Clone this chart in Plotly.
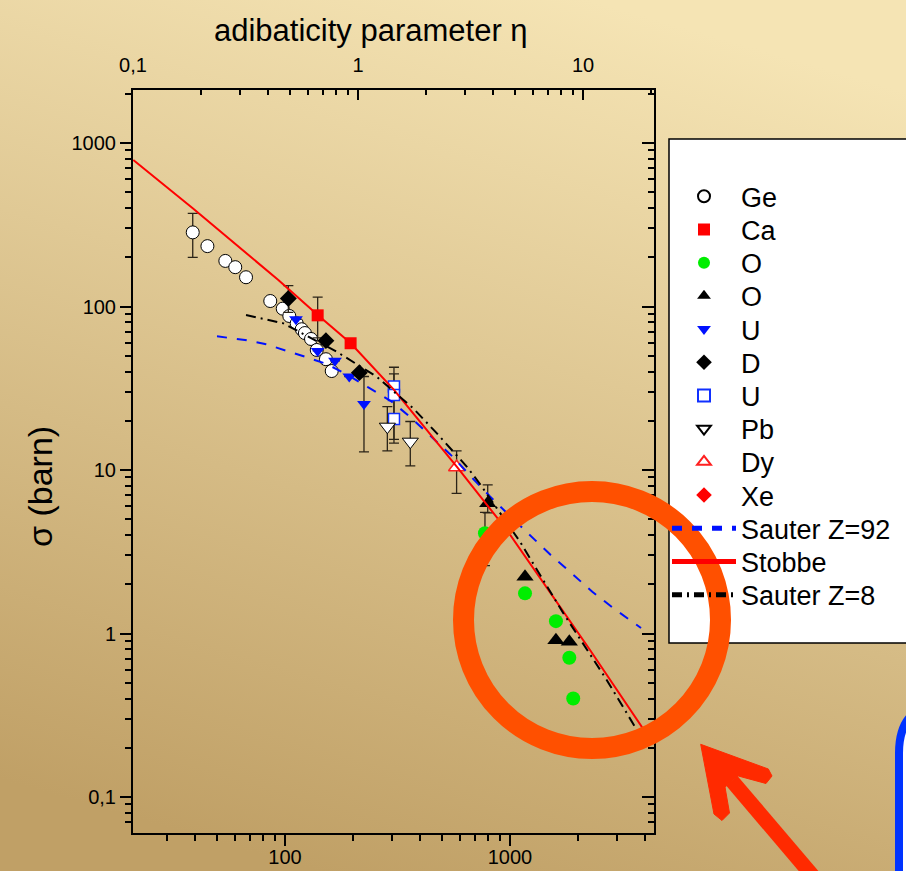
import base64
import plotly.graph_objects as go

# ---------------- data ----------------
ge_x = [38.9, 45.2, 54.3, 60.1, 67.1, 86.0, 97.7, 104.5, 112.7, 118.6, 122.6, 130.5, 138.4, 152.0, 161.3]
ge_y = [284, 234, 190, 174, 151, 108, 97, 87.5, 78.9, 72.6, 68.8, 63.3, 54.2, 47.6, 40.3]
ge_ep = [87] + [None] * 14
ge_em = [84] + [None] * 14

ca_x = [139.7, 195.7]
ca_y = [88.3, 59.6]
ca_ep = [25.7, None]
ca_em = [24.0, None]

og_x = [774, 1166, 1600, 1835, 1910]
og_y = [4.1, 1.76, 1.19, 0.71, 0.40]
og_ep = [1.4, None, None, None, None]
og_em = [1.5, None, None, None, None]

ot_x = [796, 1166, 1600, 1835]
ot_y = [6.26, 2.22, 0.91, 0.89]
ot_ep = [1.84, None, None, None]
ot_em = [0.8, None, None, None]

ut_x = [111.9, 139.7, 166.8, 193.0, 224.4]
ut_y = [83.5, 53.5, 46.5, 37.3, 25.3]
ut_ep = [None, None, None, None, 12.0]
ut_em = [None, None, None, None, 12.4]

d_x = [103.5, 152.0, 214.0]
d_y = [112, 61.8, 39.4]
d_ep = [22, None, None]
d_em = [20, None, None]

us_x = [305, 305, 305]
us_y = [32.4, 28.8, 20.5]
us_ep = [10.1, 9.9, None]
us_em = [17.0, 14.2, None]

pb_x = [285, 360.5]
pb_y = [18.4, 14.9]
pb_ep = [6.0, 4.9]
pb_em = [5.3, 4.3]

dy_x = [579]
dy_y = [10.4]
dy_ep = [2.7]
dy_em = [3.2]

# Xe appears only in the legend (no visible point)
xe_x = [None]
xe_y = [None]

sauter92_x = [49.86, 66.4, 81.5, 100, 122.7, 153.2, 190.5, 234.6, 298.1, 365.7, 448.7, 559.8,
              686.9, 815, 1000, 1231, 1517, 1881, 2322, 2879, 3546, 3822]
sauter92_y = [65.7, 62.4, 59.0, 54.2, 49.3, 44.5, 38.1, 32.0, 26.2, 20.7, 15.85, 11.96,
              8.81, 6.89, 5.23, 3.97, 3.02, 2.33, 1.80, 1.43, 1.16, 1.08]

stobbe_x = [21.17, 38.9, 93.4, 139.8, 195.9, 305.1, 579.8, 967, 2268, 3849, 4020]
stobbe_y = [787, 398.7, 145.3, 88.7, 59.6, 30.9, 10.5, 4.30, 0.793, 0.269, 0.221]

sauter8_x = [67.1, 98.3, 169.7, 255.6, 371.7, 472.3, 642.1, 735.6, 1108, 1726, 2690, 3532, 3783]
sauter8_y = [88.7, 78.9, 52.9, 37.2, 23.8, 16.8, 10.5, 8.21, 3.64, 1.33, 0.520, 0.282, 0.239]

x_tickvals = [100, 1000]
x_ticktext = ["100", "1000"]
eta_tickvals = [0.1, 1, 10]
eta_ticktext = ["0,1", "1", "10"]
y_tickvals = [0.1, 1, 10, 100, 1000]
y_ticktext = ["0,1", "1", "10", "100", "1000"]

# ---------------- geometry ----------------
FW, FH = 906, 871
L, R, T, B = 133, 654, 90, 833
PW, PH = R - L, B - T
XR = [1.32444, 3.64]
ETA_SHIFT = 2.32444
YR = [-1.2202, 3.32416]
FONT = "Liberation Sans, Arial, sans-serif"


def pxp(x):
    return (x - L) / PW


def pyp(y):
    return (B - y) / PH


def minors(lo, hi):
    out = []
    for e in range(-3, 6):
        for m in range(2, 10):
            v = m * 10 ** e
            if 10 ** lo <= v <= 10 ** hi:
                out.append(v)
    return out


ERR = dict(color="#2b2418", thickness=1.3, width=5)


def err(p, m):
    return dict(type="data", symmetric=False,
                array=[0 if (v is None and w is not None) else v for v, w in zip(p, m)],
                arrayminus=[0 if (w is None and v is not None) else w for v, w in zip(p, m)],
                **ERR)


traces = []
traces.append(go.Scatter(x=ge_x, y=ge_y, mode="markers", name="Ge",
                         marker=dict(symbol="circle", size=13, color="white",
                                     line=dict(color="black", width=1)),
                         error_y=err(ge_ep, ge_em)))
traces.append(go.Scatter(x=ca_x, y=ca_y, mode="markers", name="Ca",
                         marker=dict(symbol="square", size=12, color="#ff0000", line=dict(width=0)),
                         error_y=err(ca_ep, ca_em)))
traces.append(go.Scatter(x=og_x, y=og_y, mode="markers", name="O",
                         marker=dict(symbol="circle", size=14, color="#00ee00", line=dict(width=0)),
                         error_y=err(og_ep, og_em)))
traces.append(go.Scatter(x=ot_x, y=ot_y, mode="markers", name="O",
                         marker=dict(symbol="triangle-up", size=15, color="black", line=dict(width=0)),
                         error_y=err(ot_ep, ot_em)))
traces.append(go.Scatter(x=ut_x, y=ut_y, mode="markers", name="U",
                         marker=dict(symbol="triangle-down", size=12, color="#0010ff", line=dict(width=0)),
                         error_y=err(ut_ep, ut_em)))
traces.append(go.Scatter(x=d_x, y=d_y, mode="markers", name="D",
                         marker=dict(symbol="diamond", size=13, color="black", line=dict(width=0)),
                         error_y=err(d_ep, d_em)))
traces.append(go.Scatter(x=us_x, y=us_y, mode="markers", name="U",
                         marker=dict(symbol="square", size=11, color="white",
                                     line=dict(color="#1030ff", width=1.5)),
                         error_y=err(us_ep, us_em)))
traces.append(go.Scatter(x=pb_x, y=pb_y, mode="markers", name="Pb",
                         marker=dict(symbol="triangle-down", size=14, color="white",
                                     line=dict(color="black", width=1)),
                         error_y=err(pb_ep, pb_em)))
traces.append(go.Scatter(x=dy_x, y=dy_y, mode="markers", name="Dy",
                         marker=dict(symbol="triangle-up", size=14, color="white",
                                     line=dict(color="#ff2020", width=1.5)),
                         error_y=err(dy_ep, dy_em)))
traces.append(go.Scatter(x=xe_x, y=xe_y, mode="markers", name="Xe",
                         marker=dict(symbol="diamond", size=13, color="#ff0000", line=dict(width=0))))
traces.append(go.Scatter(x=sauter92_x, y=sauter92_y, mode="lines", name="Sauter Z=92",
                         line=dict(color="#0010ff", width=2, dash="10px,10px")))
traces.append(go.Scatter(x=stobbe_x, y=stobbe_y, mode="lines", name="Stobbe",
                         line=dict(color="#ff0000", width=2)))
traces.append(go.Scatter(x=sauter8_x, y=sauter8_y, mode="lines", name="Sauter Z=8",
                         line=dict(color="black", width=2, dash="10px,5px,2px,5px")))

fig = go.Figure()
legends = {}
for i, tr in enumerate(traces):
    key = "legend" if i == 0 else f"legend{i + 1}"
    tr.update(legend=key, hoverinfo="skip", showlegend=True)
    fig.add_trace(tr)
    legends[key] = dict(x=pxp(667), y=pyp(196.7 + i * 33.2), xanchor="left", yanchor="middle",
                        bgcolor="rgba(0,0,0,0)", borderwidth=0,
                        font=dict(family=FONT, size=27, color="black"),
                        itemsizing="constant", itemwidth=64)

# anchor traces (no visible marks) so that the secondary axes are drawn
fig.add_trace(go.Scatter(x=eta_tickvals, y=[None] * len(eta_tickvals), xaxis="x2", yaxis="y",
                         mode="markers", showlegend=False, hoverinfo="skip"))
fig.add_trace(go.Scatter(x=[None] * len(y_tickvals), y=y_tickvals, xaxis="x", yaxis="y2",
                         mode="markers", showlegend=False, hoverinfo="skip"))
fig.add_trace(go.Scatter(x=x_tickvals, y=[None] * len(x_tickvals), xaxis="x3", yaxis="y",
                         mode="markers", showlegend=False, hoverinfo="skip"))

# background gradient
svg = ('<svg xmlns="http://www.w3.org/2000/svg" width="906" height="871">'
       '<defs><linearGradient id="g" x1="0.65" y1="0" x2="0.35" y2="1">'
       '<stop offset="0" stop-color="#F5E4B4"/><stop offset="1" stop-color="#C0A066"/>'
       '</linearGradient></defs><rect width="906" height="871" fill="url(#g)"/></svg>')
src = "data:image/svg+xml;base64," + base64.b64encode(svg.encode()).decode()

axis_common = dict(type="log", showgrid=False, zeroline=False, showline=True, automargin=False,
                   linecolor="black", linewidth=2, tickcolor="black", tickwidth=2,
                   tickfont=dict(family=FONT, size=20, color="black"))

shapes = []
# legend box
shapes.append(dict(type="rect", xref="paper", yref="paper",
                   x0=pxp(669), x1=pxp(940), y0=pyp(643), y1=pyp(139),
                   fillcolor="white", line=dict(color="black", width=1.5), layer="above"))
# orange ring
cx, cy, rr = 592, 620, 128.5
shapes.append(dict(type="circle", xref="paper", yref="paper",
                   x0=pxp(cx - rr), x1=pxp(cx + rr), y0=pyp(cy + rr), y1=pyp(cy - rr),
                   line=dict(color="#FF5000", width=21), layer="above"))
# red arrow shaft
shapes.append(dict(type="line", xref="paper", yref="paper",
                   x0=pxp(732), y0=pyp(781), x1=pxp(840), y1=pyp(908),
                   line=dict(color="#FF2A00", width=15), layer="above"))
# red arrow head
head = [(700.7, 744.3), (768.3, 769), (772, 776), (766, 783.5), (738.3, 776),
        (725, 787), (729.5, 813), (722, 820.5), (714, 814)]
path = "M " + " L ".join(f"{pxp(a):.5f},{pyp(b):.5f}" for a, b in head) + " Z"
shapes.append(dict(type="path", xref="paper", yref="paper", path=path,
                   fillcolor="#FF2A00", line=dict(color="#FF2A00", width=1), layer="above"))
# blue rounded box (cut at the edge)
path = (f"M {pxp(899):.5f},{pyp(900):.5f} L {pxp(899):.5f},{pyp(753):.5f} "
        f"Q {pxp(899):.5f},{pyp(703):.5f} {pxp(949):.5f},{pyp(703):.5f} "
        f"L {pxp(1000):.5f},{pyp(703):.5f} L {pxp(1000):.5f},{pyp(900):.5f} Z")
shapes.append(dict(type="path", xref="paper", yref="paper", path=path,
                   fillcolor="white", line=dict(color="#0033FF", width=8), layer="above"))

fig.update_layout(
    width=FW, height=FH, autosize=False, showlegend=True,
    margin=dict(l=L, r=FW - R, t=T, b=FH - B, pad=0, autoexpand=False),
    paper_bgcolor="#D9BF88", plot_bgcolor="rgba(0,0,0,0)",
    font=dict(family=FONT, color="black"),
    # bottom axis: labels placed close to the line (short ticks), long major ticks from xaxis3
    xaxis=dict(range=XR, ticks="outside", ticklen=5, tickvals=x_tickvals, ticktext=x_ticktext,
               minor=dict(tickmode="array", tickvals=minors(*XR), ticks="outside", ticklen=6,
                          tickwidth=1.5, tickcolor="black"),
               **axis_common),
    xaxis3=dict(range=XR, overlaying="x", anchor="y", side="bottom", ticks="outside", ticklen=12,
                tickvals=x_tickvals, showticklabels=False,
                **{k: v for k, v in axis_common.items() if k != "showline"}, showline=False),
    xaxis2=dict(range=[XR[0] - ETA_SHIFT, XR[1] - ETA_SHIFT], overlaying="x", anchor="y", side="top",
                ticks="inside", ticklen=10, tickvals=eta_tickvals, ticktext=eta_ticktext,
                ticklabelstandoff=8,
                minor=dict(tickmode="array", tickvals=minors(XR[0] - ETA_SHIFT, XR[1] - ETA_SHIFT),
                           ticks="inside", ticklen=5, tickwidth=1.5, tickcolor="black"),
                **axis_common),
    yaxis=dict(range=YR, ticks="outside", ticklen=11, tickvals=y_tickvals, ticktext=y_ticktext,
               minor=dict(tickmode="array", tickvals=minors(*YR), ticks="outside", ticklen=6,
                          tickwidth=1.5, tickcolor="black"),
               **axis_common),
    yaxis2=dict(range=YR, overlaying="y", anchor="x", side="right", ticks="inside", ticklen=12,
                tickvals=y_tickvals, showticklabels=False,
                minor=dict(tickmode="array", tickvals=minors(*YR), ticks="inside", ticklen=6,
                           tickwidth=1.5, tickcolor="black"),
                **axis_common),
    images=[dict(source=src, xref="paper", yref="paper", x=pxp(0), y=pyp(0),
                 sizex=FW / PW, sizey=FH / PH, xanchor="left", yanchor="top",
                 sizing="stretch", layer="below")],
    shapes=shapes,
    annotations=[
        dict(text="adibaticity parameter η", xref="paper", yref="paper", x=pxp(371), y=pyp(31),
             xanchor="center", yanchor="middle", showarrow=False,
             font=dict(family=FONT, size=31, color="black")),
        dict(text="σ (barn)", xref="paper", yref="paper", x=pxp(40), y=pyp(487),
             xanchor="center", yanchor="middle", showarrow=False, textangle=-90,
             font=dict(family=FONT, size=34, color="black")),
    ],
    **legends,
)

fig.write_html("out.html")
